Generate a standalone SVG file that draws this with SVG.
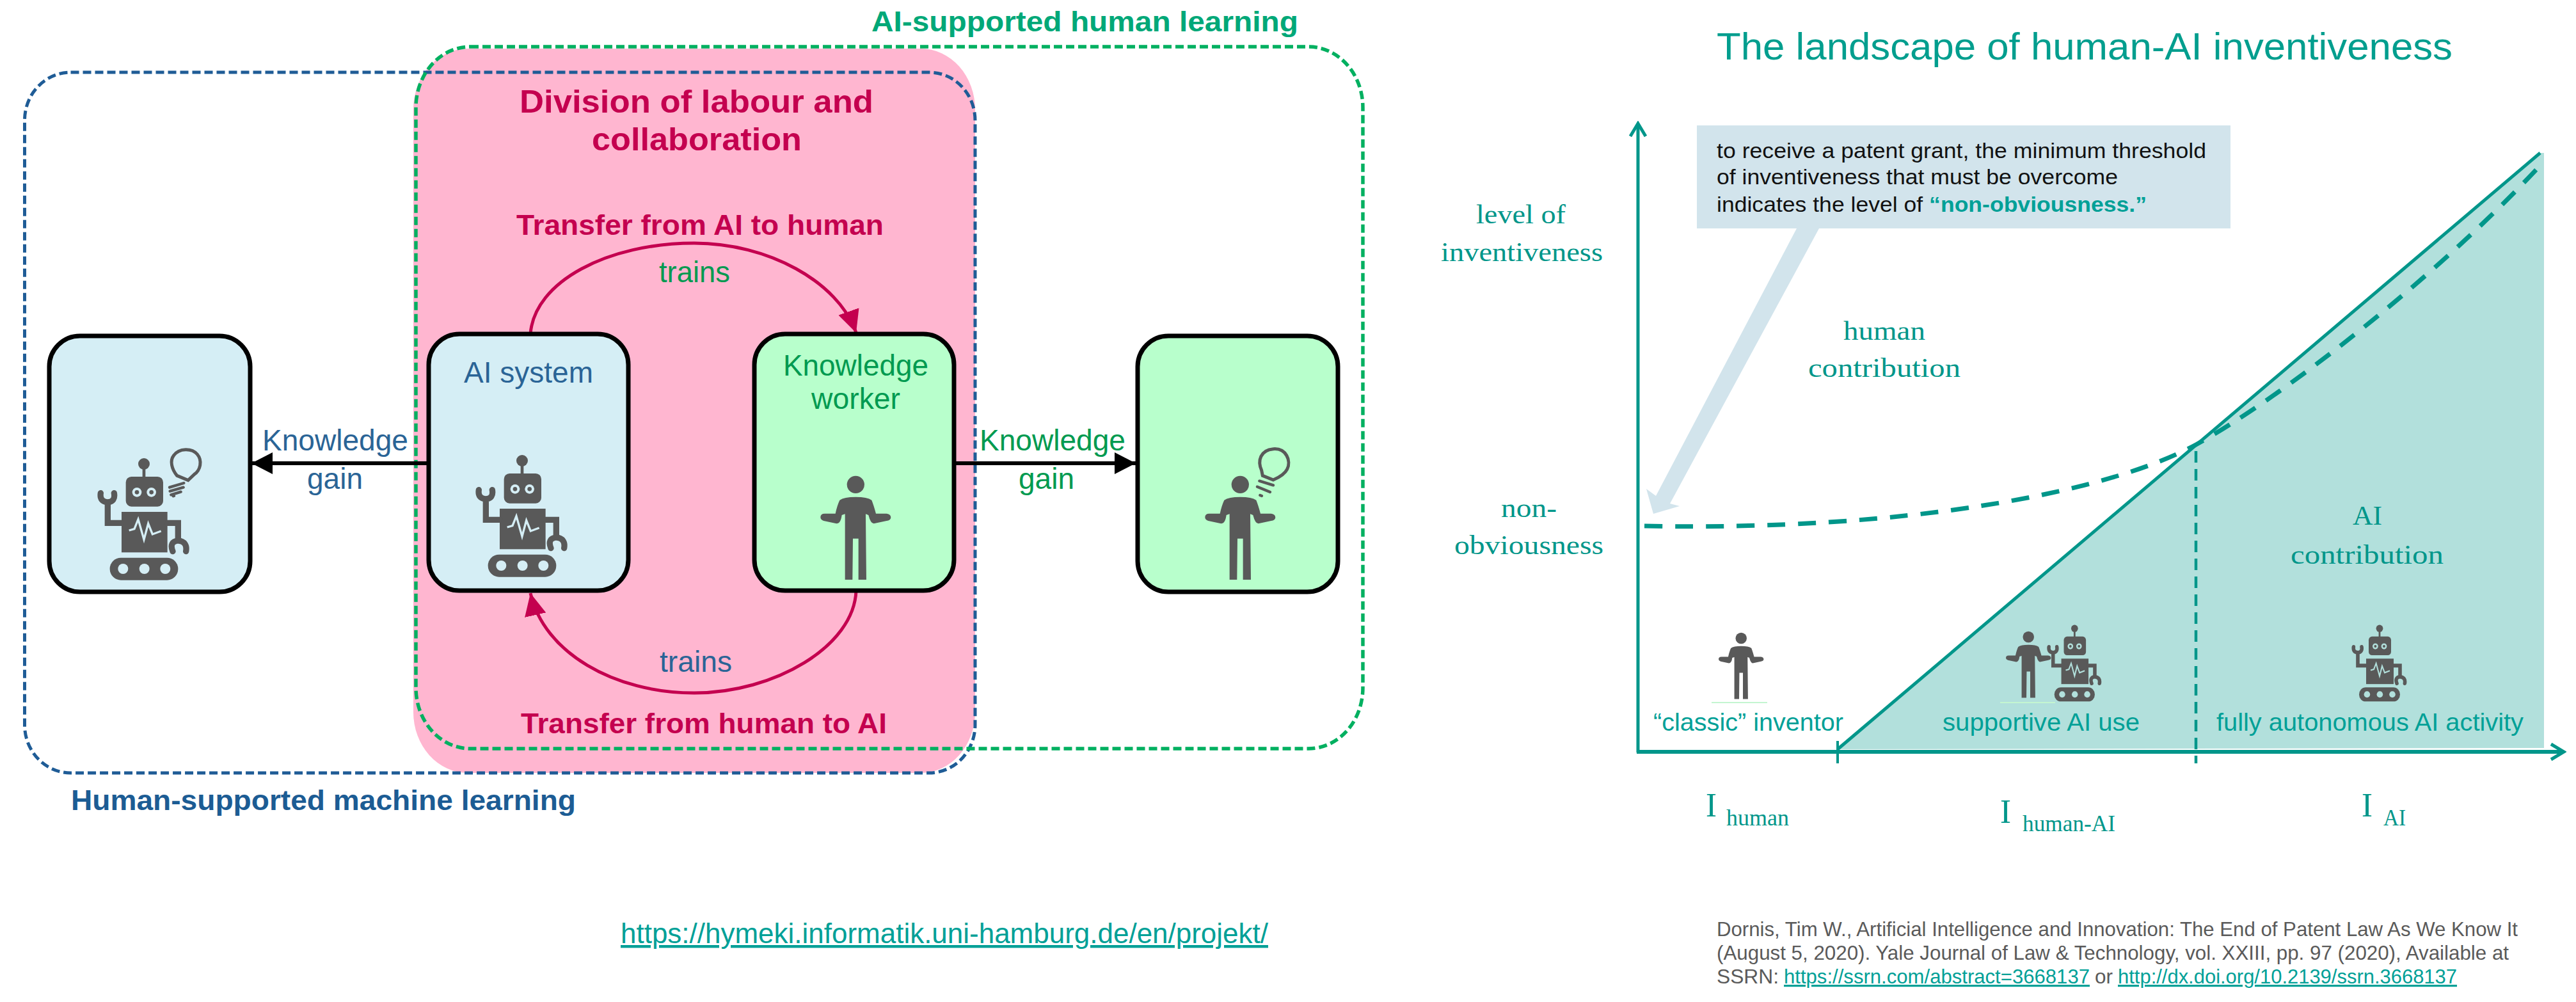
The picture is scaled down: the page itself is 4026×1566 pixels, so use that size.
<svg xmlns="http://www.w3.org/2000/svg" xmlns:xlink="http://www.w3.org/1999/xlink" width="4026" height="1566" viewBox="0 0 4026 1566">
<style>
text{font-family:"Liberation Sans",Arial,sans-serif}
.serif{font-family:"Liberation Serif","Times New Roman",serif;fill:#00968A;font-size:43px}
.pink{fill:#C4004F;font-weight:bold}
.blue{fill:#2A6496;font-size:46px}
.green{fill:#009A50;font-size:46px}
.lab{fill:#00A097;font-size:39px}
.box{stroke:#000;stroke-width:7}
.bl{fill:#D5EEF5}
.gr{fill:#B8FFCC}
.dark{fill:#595959}
.cit{fill:#5A5A5A;font-size:32px}
.link{fill:#00A097;text-decoration:underline}
.call{fill:#111;font-size:34px}
</style>
<defs>
<marker id="headBlack" markerUnits="userSpaceOnUse" markerWidth="34" markerHeight="36" refX="33" refY="18" orient="auto"><path d="M0 1L33 18L0 35Z" fill="#000"/></marker>
<marker id="headPink" markerUnits="userSpaceOnUse" markerWidth="36" markerHeight="36" refX="35" refY="18" orient="auto"><path d="M0 1L35 18L0 35Z" fill="#C4004F"/></marker>
<marker id="headTeal" markerUnits="userSpaceOnUse" markerWidth="26" markerHeight="32" refX="22" refY="16" orient="auto"><path d="M2 4L22 16L2 28" fill="none" stroke="#00968A" stroke-width="5"/></marker>
<g id="robot" transform="scale(.3333)">
<g class="dark">
<circle cx="285" cy="135" r="27"/><rect x="278" y="150" width="14" height="50"/>
<rect x="200" y="195" width="175" height="140" rx="26"/>
<rect x="180" y="360" width="215" height="190"/>
<rect x="125" y="575" width="320" height="105" rx="52"/>
</g>
<path d="M180 412H115V315M82 272Q76 312 115 315Q152 312 145 272M395 412H445V495M420 545Q402 500 445 495Q490 500 482 545" fill="none" stroke="#595959" stroke-width="28" stroke-linecap="round"/>
<g fill="currentColor">
<circle cx="252" cy="268" r="22"/><circle cx="320" cy="268" r="22"/>
<circle cx="187" cy="627" r="24"/><circle cx="287" cy="627" r="24"/><circle cx="385" cy="627" r="24"/>
</g>
<circle cx="252" cy="268" r="10" fill="#595959"/><circle cx="320" cy="268" r="10" fill="#595959"/>
<path d="M215 447L240 440L258 395L285 490L305 415L325 465L365 450" fill="none" stroke="currentColor" stroke-width="10"/>
</g>
<g id="person" transform="scale(.3333)" class="dark">
<circle cx="205" cy="262" r="41"/>
<path d="M130 335Q150 320 205 320Q260 320 280 335Q290 360 300 398L350 398Q370 400 370 417Q368 430 350 432L290 445Q275 445 265 405L252 400L255 708L218 708L218 515L192 515L190 708L155 708L155 400L140 405Q135 445 115 445L55 432Q40 428 40 415Q40 398 60 398L110 398Q118 360 130 335Z"/>
</g>
<g id="bulbRobot" transform="scale(.3333)" fill="none" stroke="#595959" stroke-linecap="round">
<path d="M440 190C415 160 405 120 425 95C450 60 510 60 535 90C560 120 550 165 520 185L492 212Z" stroke-width="15"/>
<path d="M405 245L472 225M407 263L470 245M412 280L458 266M422 286L426 285" stroke-width="13"/>
</g>
<g id="bulbPerson" transform="scale(.3333)" fill="none" stroke="#595959" stroke-linecap="round">
<path d="M305 195C285 150 300 100 360 95C420 90 445 150 425 190C415 210 395 225 360 240L310 220Z" stroke-width="15"/>
<path d="M295 245L360 265M285 272L345 297M298 312L306 315" stroke-width="13"/>
</g>
</defs>
<rect width="4026" height="1566" fill="#fff"/>

<g id="division">
<rect x="646" y="76" width="878" height="1132" rx="85" ry="95" fill="#FFB6D0"/>
<text class="pink" x="812" y="176" font-size="50" textLength="553" lengthAdjust="spacingAndGlyphs">Division of labour and</text>
<text class="pink" x="925" y="235" font-size="50" textLength="328" lengthAdjust="spacingAndGlyphs">collaboration</text>
<text class="pink" x="807" y="367" font-size="45" textLength="574" lengthAdjust="spacingAndGlyphs">Transfer from AI to human</text>
<text class="pink" x="814" y="1146" font-size="45" textLength="572" lengthAdjust="spacingAndGlyphs">Transfer from human to AI</text>
</g>
<g id="human-supported-machine-learning">
<rect x="38.5" y="113" width="1485.5" height="1095" rx="72" ry="75" fill="none" stroke="#1F5C96" stroke-width="5" stroke-dasharray="13 6"/>
<text x="111" y="1266" font-size="44" font-weight="bold" fill="#1C5C94" textLength="789" lengthAdjust="spacingAndGlyphs">Human-supported machine learning</text>
</g>
<g id="ai-supported-human-learning">
<rect x="650" y="73" width="1480" height="1097" rx="85" ry="95" fill="none" stroke="#00B060" stroke-width="5.5" stroke-dasharray="13 6"/>
<text x="1362" y="49" font-size="44" font-weight="bold" fill="#00A878" textLength="667" lengthAdjust="spacingAndGlyphs">AI-supported human learning</text>
</g>

<g id="connectors">
<path d="M668 724H393" fill="none" stroke="#000" stroke-width="6" marker-end="url(#headBlack)"/>
<path d="M1491 724H1775" fill="none" stroke="#000" stroke-width="6" marker-end="url(#headBlack)"/>
<path d="M829 522C835 440 950 380 1085 380C1200 380 1310 440 1338 520" fill="none" stroke="#C4004F" stroke-width="5" marker-end="url(#headPink)"/>
<path d="M1338 923C1335 1010 1210 1083 1085 1083C960 1083 850 1020 829 927" fill="none" stroke="#C4004F" stroke-width="5" marker-end="url(#headPink)"/>
</g>

<g id="node-ai-gain">
<rect class="box bl" x="77" y="525" width="314" height="400" rx="48"/>
<use href="#robot" x="130" y="680" style="color:#D5EEF5"/>
<use href="#bulbRobot" x="130" y="680"/>
</g>
<g id="node-ai-system">
<rect class="box bl" x="670" y="522" width="312" height="401" rx="48"/>
<text class="blue" x="725" y="598" textLength="202" lengthAdjust="spacingAndGlyphs">AI system</text>
<use href="#robot" x="721" y="675" style="color:#D5EEF5"/>
</g>
<g id="node-knowledge-worker">
<rect class="box gr" x="1179" y="522" width="312" height="401" rx="48"/>
<text class="green" x="1224" y="587" textLength="227" lengthAdjust="spacingAndGlyphs">Knowledge</text>
<text class="green" x="1268" y="639" textLength="139" lengthAdjust="spacingAndGlyphs">worker</text>
<use href="#person" x="1269" y="670"/>
</g>
<g id="node-human-gain">
<rect class="box gr" x="1778" y="525" width="313" height="400" rx="48"/>
<use href="#person" x="1870" y="670"/>
<use href="#bulbPerson" x="1870" y="670"/>
</g>
<g id="connector-labels">
<text class="blue" x="410" y="704" textLength="228" lengthAdjust="spacingAndGlyphs">Knowledge</text>
<text class="blue" x="480" y="764" textLength="87" lengthAdjust="spacingAndGlyphs">gain</text>
<text class="green" x="1531" y="704" textLength="228" lengthAdjust="spacingAndGlyphs">Knowledge</text>
<text class="green" x="1592" y="764" textLength="87" lengthAdjust="spacingAndGlyphs">gain</text>
<text class="green" x="1030" y="441" textLength="111" lengthAdjust="spacingAndGlyphs">trains</text>
<text class="blue" x="1031" y="1050" textLength="113" lengthAdjust="spacingAndGlyphs">trains</text>
</g>
<text x="970" y="1474" font-size="44" class="link" textLength="1012" lengthAdjust="spacingAndGlyphs">https://hymeki.informatik.uni-hamburg.de/en/projekt/</text>

<g id="chart">
<text x="2683" y="93" font-size="59" fill="#009E8E" textLength="1150" lengthAdjust="spacingAndGlyphs">The landscape of human-AI inventiveness</text>
<path d="M2872 1171L3970 239H3976V1169Z" fill="#B2E0DC"/>
<path d="M2808 357H2843L2610 787L2625 791L2584 803L2573 764L2588 775Z" fill="#D2E4EC"/>
<rect x="2652" y="196" width="834" height="161" fill="#D2E4EC"/>
<text class="call" x="2683" y="247" textLength="765" lengthAdjust="spacingAndGlyphs">to receive a patent grant, the minimum threshold</text>
<text class="call" x="2683" y="288" textLength="627" lengthAdjust="spacingAndGlyphs">of inventiveness that must be overcome</text>
<text class="call" x="2683" y="331" textLength="672" lengthAdjust="spacingAndGlyphs">indicates the level of <tspan fill="#00A097" font-weight="bold">“non-obviousness.”</tspan></text>
<path d="M2560 1176V193" fill="none" stroke="#00968A" stroke-width="5" marker-end="url(#headTeal)"/>
<path d="M2558 1175H4007" fill="none" stroke="#00968A" stroke-width="6" marker-end="url(#headTeal)"/>
<path d="M2872 1171L3970 239" fill="none" stroke="#00968A" stroke-width="5"/>
<path d="M2570 822C2970 830 3290 772 3432 695C3560 625 3800 440 3964 265" fill="none" stroke="#00968A" stroke-width="7" stroke-dasharray="28 20"/>
<path d="M3432 705V1193" fill="none" stroke="#00968A" stroke-width="4.5" stroke-dasharray="18 10"/>
<path d="M2872 1158V1193" fill="none" stroke="#00968A" stroke-width="4"/>

<text class="serif" x="2307" y="349" textLength="140" lengthAdjust="spacingAndGlyphs">level of</text>
<text class="serif" x="2252" y="408" textLength="253" lengthAdjust="spacingAndGlyphs">inventiveness</text>
<text class="serif" x="2881" y="531" textLength="128" lengthAdjust="spacingAndGlyphs">human</text>
<text class="serif" x="2826" y="589" textLength="238" lengthAdjust="spacingAndGlyphs">contribution</text>
<text class="serif" x="2346" y="808" textLength="87" lengthAdjust="spacingAndGlyphs">non-</text>
<text class="serif" x="2273" y="866" textLength="233" lengthAdjust="spacingAndGlyphs">obviousness</text>
<text class="serif" x="3677" y="820" textLength="46" lengthAdjust="spacingAndGlyphs">AI</text>
<text class="serif" x="3580" y="881" textLength="239" lengthAdjust="spacingAndGlyphs">contribution</text>

<use href="#person" transform="translate(2677.5 941.6) scale(.64)"/>
<use href="#person" transform="translate(3126.5 939.6) scale(.64)"/>
<use href="#robot" transform="translate(3186 954) scale(.593 .628)" style="color:#B2E0DC"/>
<use href="#robot" transform="translate(3662 954) scale(.6 .628)" style="color:#B2E0DC"/>
<path d="M2675 1098H2762M3126 1098H3212" stroke="#C4F5D0" stroke-width="2" fill="none"/>

<text class="lab" x="2584" y="1142" textLength="297" lengthAdjust="spacingAndGlyphs">“classic” inventor</text>
<text class="lab" x="3036" y="1142" textLength="308" lengthAdjust="spacingAndGlyphs">supportive AI use</text>
<text class="lab" x="3464" y="1142" textLength="480" lengthAdjust="spacingAndGlyphs">fully autonomous AI activity</text>

<text class="serif" x="2666" y="1276" style="font-size:52px" textLength="17" lengthAdjust="spacingAndGlyphs">I</text>
<text class="serif" x="2698" y="1290" style="font-size:36px" textLength="98" lengthAdjust="spacingAndGlyphs">human</text>
<text class="serif" x="3126" y="1286" style="font-size:52px" textLength="17" lengthAdjust="spacingAndGlyphs">I</text>
<text class="serif" x="3161" y="1299" style="font-size:36px" textLength="145" lengthAdjust="spacingAndGlyphs">human-AI</text>
<text class="serif" x="3691" y="1276" style="font-size:52px" textLength="17" lengthAdjust="spacingAndGlyphs">I</text>
<text class="serif" x="3725" y="1290" style="font-size:36px" textLength="35" lengthAdjust="spacingAndGlyphs">AI</text>

<text class="cit" x="2683" y="1463" textLength="1252" lengthAdjust="spacingAndGlyphs">Dornis, Tim W., Artificial Intelligence and Innovation: The End of Patent Law As We Know It</text>
<text class="cit" x="2683" y="1500" textLength="1238" lengthAdjust="spacingAndGlyphs">(August 5, 2020). Yale Journal of Law &amp; Technology, vol. XXIII, pp. 97 (2020), Available at</text>
<text class="cit" x="2683" y="1537" textLength="97" lengthAdjust="spacingAndGlyphs">SSRN:</text>
<text class="cit link" x="2788" y="1537" textLength="478" lengthAdjust="spacingAndGlyphs">https://ssrn.com/abstract=3668137</text>
<text class="cit" x="3274" y="1537" textLength="28" lengthAdjust="spacingAndGlyphs">or</text>
<text class="cit link" x="3310" y="1537" textLength="530" lengthAdjust="spacingAndGlyphs">http://dx.doi.org/10.2139/ssrn.3668137</text>
</g>
</svg>
